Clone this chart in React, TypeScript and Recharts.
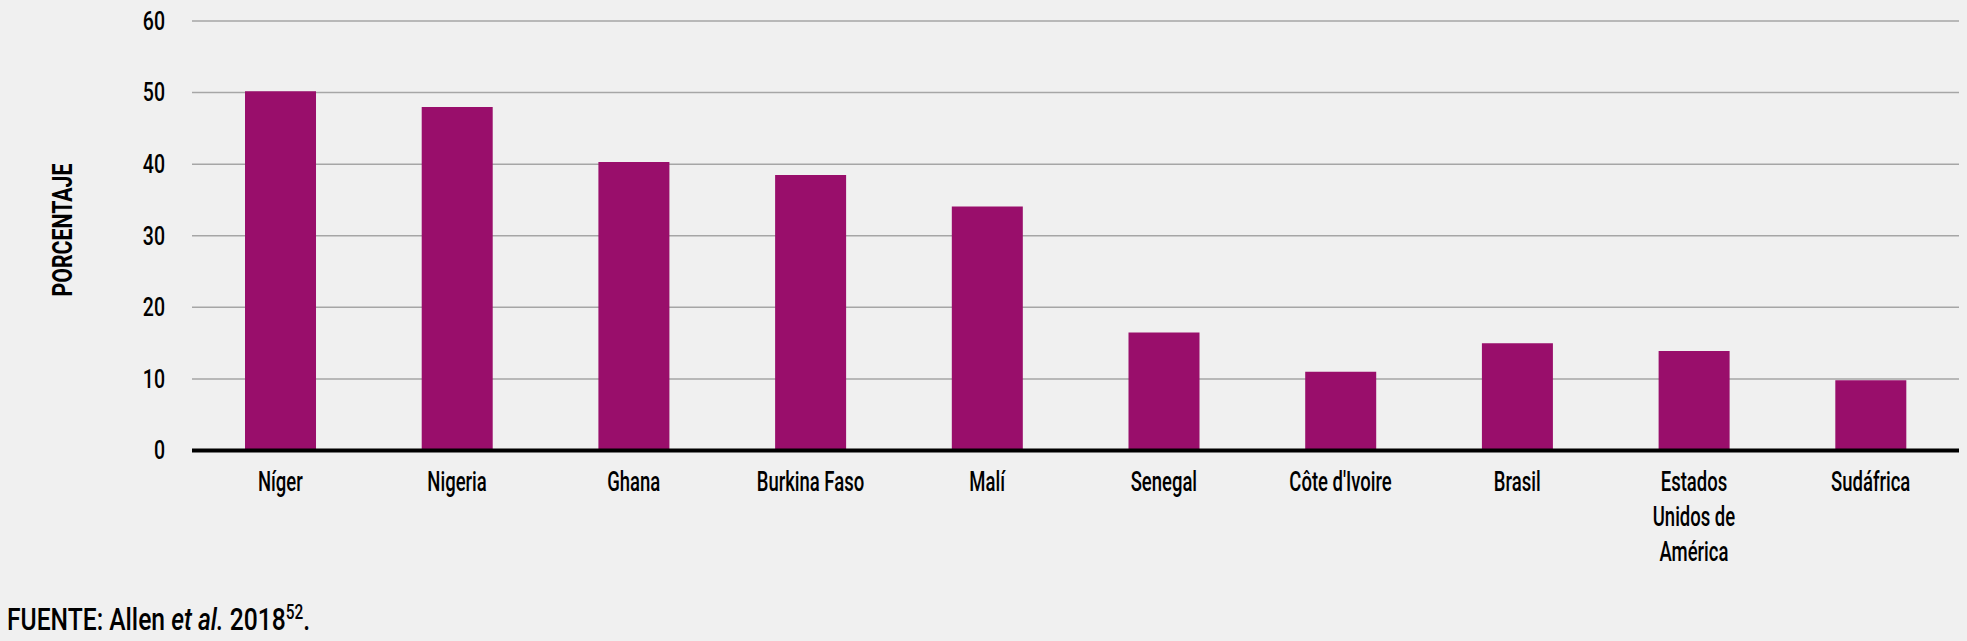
import { BarChart, Bar, XAxis, YAxis, CartesianGrid } from "recharts";

// Countries (line breaks kept for the long label)
const countries = [
  "Níger",
  "Nigeria",
  "Ghana",
  "Burkina Faso",
  "Malí",
  "Senegal",
  "Côte d'Ivoire",
  "Brasil",
  "Estados\nUnidos de\nAmérica",
  "Sudáfrica",
];

// Percentage values
const percentages = [50.2, 48.0, 40.3, 38.5, 34.1, 16.5, 11.0, 15.0, 13.9, 9.8];

const yTicks = [0, 10, 20, 30, 40, 50, 60];

const data = countries.map((name, i) => ({ name, value: percentages[i] }));

const FONT = "Roboto, 'Liberation Sans', sans-serif";

function CountryTick(props: any) {
  const { x, y, payload } = props;
  const lines: string[] = String(payload.value).split("\n");
  return (
    <g transform={`translate(${x},${y})`}>
      <text
        transform="scale(0.66,1)"
        textAnchor="middle"
        fontFamily={FONT}
        fontWeight={500}
        fontSize={28}
        fill="#000"
      >
        {lines.map((l, i) => (
          <tspan key={i} x={0} y={41 + i * 35}>
            {l}
          </tspan>
        ))}
      </text>
    </g>
  );
}

function ValueTick(props: any) {
  const { x, y, payload } = props;
  return (
    <g transform={`translate(${x},${y})`}>
      <text
        transform="scale(0.78,1)"
        textAnchor="end"
        dy="0.355em"
        fontFamily={FONT}
        fontWeight={500}
        fontSize={25}
        fill="#000"
      >
        {payload.value}
      </text>
    </g>
  );
}

export default function App() {
  return (
    <div
      style={{
        position: "absolute",
        left: 0,
        top: 0,
        width: 1967,
        height: 641,
        background: "#f0f0f0",
        overflow: "hidden",
      }}
    >
      <BarChart
        width={1967}
        height={641}
        data={data}
        margin={{ top: 21, right: 8, left: 0, bottom: 0 }}
        barCategoryGap="30%"
      >
        <CartesianGrid vertical={false} stroke="#a6a6a6" strokeWidth={1.5} />
        <XAxis
          dataKey="name"
          height={190.5}
          interval={0}
          tickLine={false}
          tickSize={0}
          tickMargin={0}
          axisLine={{ stroke: "#000", strokeWidth: 4 }}
          tick={<CountryTick />}
        />
        <YAxis
          width={192}
          domain={[0, 60]}
          ticks={yTicks}
          axisLine={false}
          tickLine={false}
          tickSize={0}
          tickMargin={27}
          tick={<ValueTick />}
        />
        <Bar dataKey="value" fill="#990e6b" isAnimationActive={false} />
      </BarChart>
      <svg
        width={1967}
        height={641}
        style={{ position: "absolute", left: 0, top: 0, pointerEvents: "none" }}
      >
        <text
          transform="translate(62,230) rotate(-90) scale(0.76,1)"
          textAnchor="middle"
          dominantBaseline="central"
          fontFamily={FONT}
          fontWeight={700}
          fontSize={28}
          fill="#000"
        >
          PORCENTAJE
        </text>
        <text
          transform="translate(7,630) scale(0.77,1)"
          fontFamily={FONT}
          fontWeight={500}
          fontSize={32}
          fill="#000"
        >
          FUENTE: Allen <tspan fontStyle="italic">et al.</tspan> 2018
          <tspan fontSize={20} dy={-11}>
            52
          </tspan>
          <tspan dy={11}>.</tspan>
        </text>
      </svg>
    </div>
  );
}
